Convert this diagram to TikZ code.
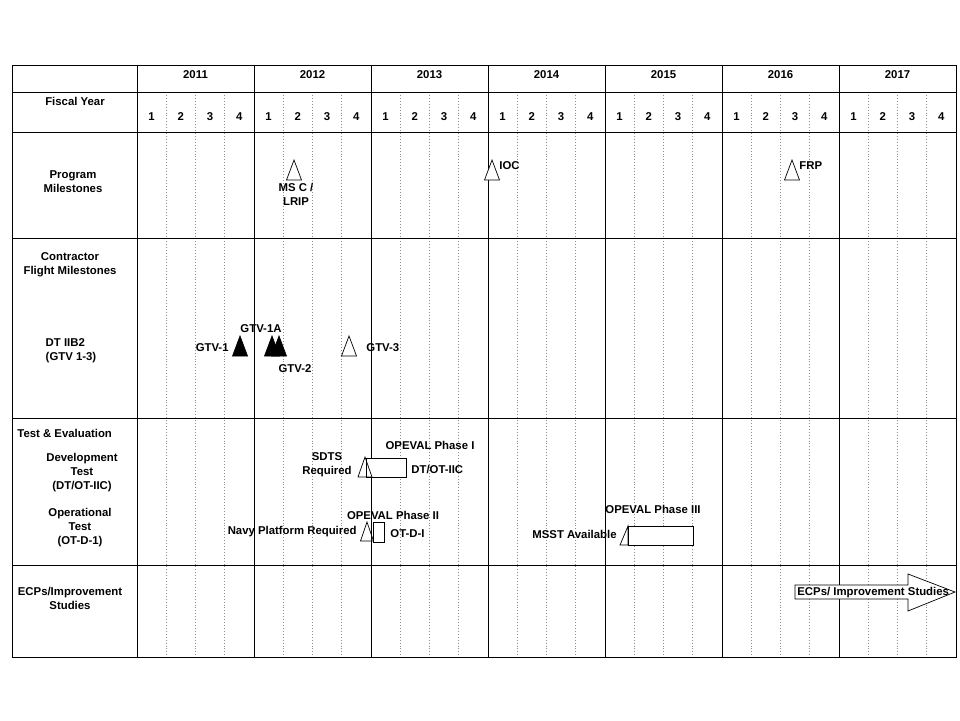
\documentclass[tikz,border=0pt]{standalone}
\usepackage{fontspec}
\setmainfont{Liberation Sans}
\usetikzlibrary{positioning}

\begin{document}
\begin{tikzpicture}[
  x=0.3mm, y=-0.3mm,
  every node/.style={font=\fontsize{9.7}{12}\selectfont\bfseries, inner sep=1pt, yshift=-0.5mm},
  frame/.style={line width=0.8pt},
  qline/.style={black!45, dotted, line width=0.5pt},
  ms/.style={draw, fill=white, line width=0.6pt},
  msdone/.style={draw, fill=black, line width=0.6pt},
  bar/.style={draw, fill=white, line width=0.6pt}
]
\useasboundingbox (0,0) rectangle (960,720);
% quarter grid
\foreach \i in {0,...,6}
  \foreach \q in {1,2,3}
    \draw[qline] ({137+117*\i+29.25*\q},92) -- ({137+117*\i+29.25*\q},657);
% frame, year columns, row lines
\draw[frame] (12,65) rectangle (956,657);
\foreach \i in {0,...,6}
  \draw[frame] ({137+117*\i},65) -- ({137+117*\i},657);
\foreach \r in {92,132,238,418,565}
  \draw[frame] (12,\r) -- (956,\r);
% header
\foreach \yr [count=\i from 0] in {2011,...,2017}
  \node (y\yr) at ({195.5+117*\i},73) {\yr};
\foreach \i in {0,...,6}
  \foreach \q in {1,...,4}
    \node (q\i\q) at ({137+117*\i+29.25*(\q-0.5)},115) {\q};
\node (fy) at (75,100) {Fiscal Year};
% row titles
\node[align=center] (prog) at (73,180) {Program\\Milestones};
\node[align=center] (contr) at (70,263) {Contractor\\Flight Milestones};
\node[align=left] (dt2) at (71,349) {DT IIB2\\(GTV 1-3)};
\node[anchor=west] (te) at (16,432) {Test \& Evaluation};
\node[align=center] (devt) at (82,471) {Development\\Test\\(DT/OT-IIC)};
\node[align=center] (opt) at (80,526) {Operational\\Test\\(OT-D-1)};
\node[align=center] (ecp) at (70,597) {ECPs/Improvement\\Studies};
% program milestones
\foreach \x in {294,492,792}
  \draw[ms] (\x,160) -- ++(-7.5,20) -- ++(15,0) -- cycle;
\node[align=center] (msc) at (296,193) {MS C /\\LRIP};
\node[anchor=west] (ioc) at (498,164) {IOC};
\node[anchor=west] (frp) at (798,164) {FRP};
% flight milestones
\foreach \x in {240,272,279}
  \draw[msdone] (\x,336) -- ++(-7.5,20) -- ++(15,0) -- cycle;
\draw[ms] (349,336) -- ++(-7.5,20) -- ++(15,0) -- cycle;
\node[anchor=east] (gtv1) at (230,346) {GTV-1};
\node (gtv1a) at (261,327) {GTV-1A};
\node (gtv2) at (295,367) {GTV-2};
\node[anchor=west] (gtv3) at (365,346) {GTV-3};
% test and evaluation
\draw[bar] (366,458) rectangle (406,477);
\draw[ms, fill=none] (365,457) -- ++(-7,20) -- ++(14,0) -- cycle;
\node[align=center, anchor=east] (sdts) at (353,463) {SDTS\\Required};
\node (ope1) at (430,444) {OPEVAL Phase I};
\node[anchor=west] (dtot) at (410,468) {DT/OT-IIC};
\draw[bar] (373,522) rectangle (384,542);
\draw[ms, fill=none] (367,522) -- ++(-6.5,19) -- ++(13,0) -- cycle;
\node[anchor=east] (navy) at (358,530) {Navy Platform Required};
\node (ope2) at (393,514) {OPEVAL Phase II};
\node[anchor=west] (otd) at (389,532) {OT-D-I};
\draw[bar] (628,526) rectangle (693,545);
\draw[ms, fill=none] (628,526) -- (620,545) -- (628,545) -- cycle;
\node[anchor=east] (msst) at (618,533) {MSST Available};
\node (ope3) at (653,508) {OPEVAL Phase III};
% improvement studies
\draw[bar] (795,585) -- (908,585) -- (908,574) -- (955,592) -- (908,611)
  -- (908,599) -- (795,599) -- cycle;
\node[anchor=west] (ecparr) at (796,591) {ECPs/ Improvement Studies};
\end{tikzpicture}
\end{document}
